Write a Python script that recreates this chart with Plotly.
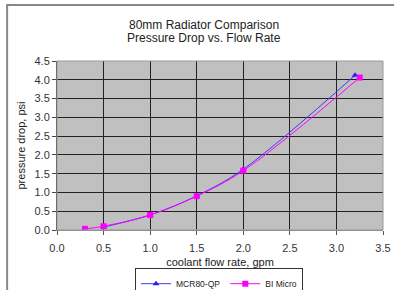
import plotly.graph_objects as go

mcr_x = [0.5, 1.0, 1.5, 2.0, 3.2]
mcr_y = [0.08, 0.40, 0.91, 1.62, 4.12]
bi_x = [0.3, 0.5, 1.0, 1.5, 2.0, 3.25]
bi_y = [0.03, 0.10, 0.40, 0.90, 1.58, 4.06]

x_ticks = [0.0, 0.5, 1.0, 1.5, 2.0, 2.5, 3.0, 3.5]
y_ticks = [0.0, 0.5, 1.0, 1.5, 2.0, 2.5, 3.0, 3.5, 4.0, 4.5]

title_lines = ["80mm Radiator Comparison", "Pressure Drop vs. Flow Rate"]

font = "Liberation Sans, Arial, sans-serif"

fig = go.Figure()
fig.add_trace(go.Scatter(x=mcr_x, y=mcr_y, name="MCR80-QP", mode="lines+markers",
                         line=dict(color="#3a3aff", width=1, shape="spline"),
                         marker=dict(symbol="triangle-up", size=6, color="#2020ff")))
fig.add_trace(go.Scatter(x=bi_x, y=bi_y, name="BI Micro", mode="lines+markers",
                         line=dict(color="#ff00ff", width=1, shape="spline"),
                         marker=dict(symbol="square", size=6, color="#ff00ff")))

fig.update_layout(
    width=394, height=290,
    margin=dict(l=57, r=11, t=61, b=60, autoexpand=False),
    paper_bgcolor="white", plot_bgcolor="#c0c0c0",
    font=dict(family=font, size=11, color="#222222"),
    showlegend=True,
    legend=dict(orientation="h", x=0.497, xanchor="center", y=-0.226, yanchor="top",
                bgcolor="white", bordercolor="#333333", borderwidth=1,
                font=dict(size=8.5), itemwidth=30, tracegroupgap=0),
    xaxis=dict(range=[0, 3.5], tickvals=x_ticks, ticktext=[f"{v:.1f}" for v in x_ticks],
               showgrid=True, gridcolor="#222222", gridwidth=1, zeroline=False,
               showline=True, linecolor="#888888", ticks="outside", ticklen=4,
               tickcolor="#555555", mirror=False, automargin=False, ticklabelstandoff=4,
               title=dict(text="coolant flow rate, gpm", font=dict(size=11), standoff=5),
               tickfont=dict(size=11, color="#333333")),
    yaxis=dict(range=[0, 4.5], tickvals=y_ticks, ticktext=[f"{v:.1f}" for v in y_ticks],
               showgrid=True, gridcolor="#222222", gridwidth=1, zeroline=False,
               showline=True, linecolor="#444444", ticks="outside", ticklen=4,
               tickcolor="#444444", automargin=False,
               title=dict(text="pressure drop, psi", font=dict(size=11), standoff=6),
               tickfont=dict(size=11, color="#333333")),
)

for txt, ypos in zip(title_lines, [1.213, 1.136]):
    fig.add_annotation(text=txt, xref="paper", yref="paper", x=0.452, y=ypos,
                       xanchor="center", yanchor="middle", showarrow=False,
                       font=dict(size=12, color="#222222"))

fig.add_shape(type="rect", xref="paper", yref="paper",
              x0=-0.153, x1=1.06, y0=-0.45, y1=1.331,
              line=dict(color="#888888", width=2), fillcolor="rgba(0,0,0,0)", layer="above")
fig.add_shape(type="rect", xref="paper", yref="paper", x0=0, x1=1, y0=0, y1=1,
              line=dict(color="#999999", width=1), fillcolor="rgba(0,0,0,0)")

fig.write_html("out.html", config={"displayModeBar": False},
               post_script="document.body.style.margin='0';document.body.style.overflow='hidden';")
